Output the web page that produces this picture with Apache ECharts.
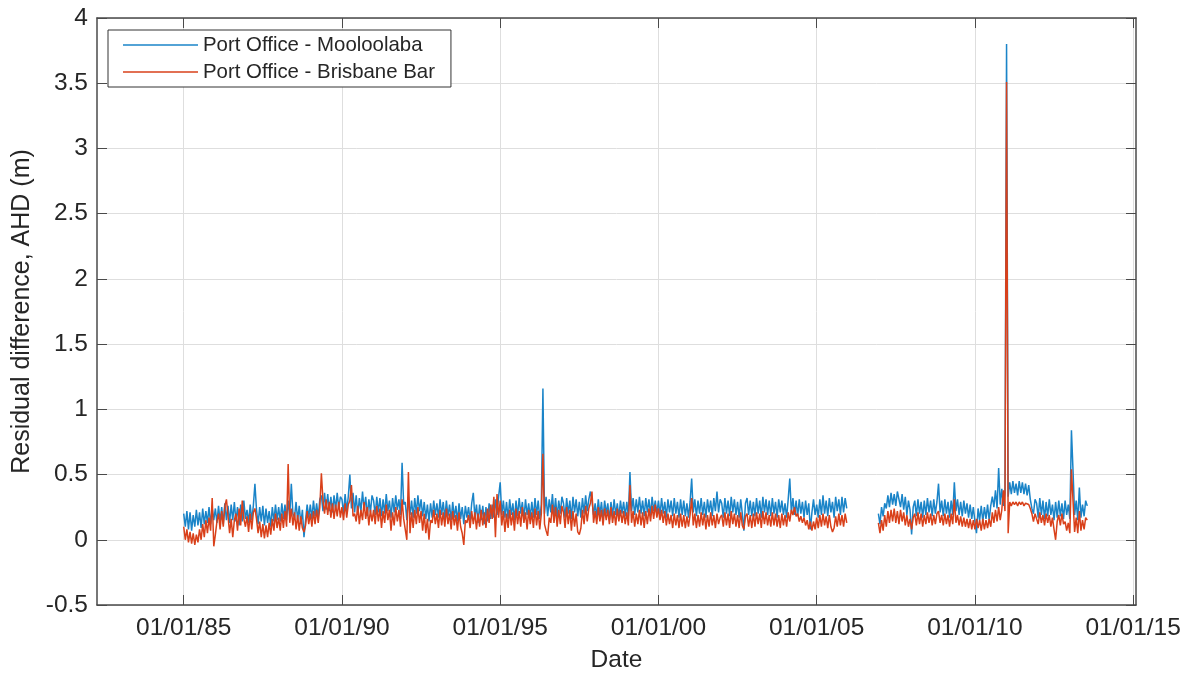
<!DOCTYPE html>
<html>
<head>
<meta charset="utf-8">
<script src="https://cdn.jsdelivr.net/npm/echarts@6/dist/echarts.min.js"></script>
<style>html,body{margin:0;padding:0;background:#fff;}#c{width:1204px;height:673px;}</style>
</head>
<body>
<div id="c"></div>
<script>
// ---- data ----
var seriesNames = ['Port Office - Mooloolaba', 'Port Office - Brisbane Bar'];
var xTickYears = [1985, 1990, 1995, 2000, 2005, 2010, 2015];
var yTicks = [-0.5, 0, 0.5, 1, 1.5, 2, 2.5, 3, 3.5, 4];
var sampleStep = 0.05;          // years between samples
var seg1Start = 1985.0;         // first record block
var seg2Start = 2006.95;        // second record block (after data gap)

var blueSeg1 = [
0.2,0.1,0.22,0.08,0.21,0.07,0.19,0.1,0.23,0.11,0.21,0.09,0.24,0.12,0.22,0.13,0.25,0.12,0.24,0.15,
0.24,0.13,0.26,0.14,0.25,0.12,0.28,0.15,0.26,0.13,0.27,0.15,0.29,0.14,0.25,0.11,0.27,0.14,0.3,0.16,
0.23,0.13,0.27,0.15,0.26,0.43,0.23,0.12,0.25,0.14,0.26,0.11,0.24,0.13,0.22,0.1,0.25,0.14,0.27,0.15,
0.25,0.14,0.28,0.16,0.27,0.15,0.3,0.18,0.43,0.2,0.17,0.29,0.15,0.26,0.12,0.23,0.02,0.15,0.27,0.17,
0.27,0.16,0.3,0.18,0.28,0.17,0.31,0.34,0.22,0.36,0.23,0.35,0.22,0.33,0.21,0.34,0.23,0.36,0.24,0.33,
0.31,0.2,0.35,0.22,0.33,0.5,0.24,0.36,0.21,0.34,0.19,0.32,0.22,0.37,0.23,0.33,0.18,0.31,0.21,0.34,
0.3,0.19,0.33,0.21,0.32,0.18,0.31,0.2,0.35,0.22,0.3,0.17,0.32,0.21,0.34,0.23,0.31,0.19,0.59,0.27,
0.29,0.15,0.33,0.19,0.3,0.17,0.32,0.2,0.34,0.22,0.31,0.18,0.29,0.16,0.27,0.14,0.28,0.17,0.3,0.19,
0.28,0.17,0.31,0.19,0.29,0.16,0.3,0.18,0.27,0.15,0.29,0.17,0.26,0.14,0.28,0.16,0.25,0.12,0.26,0.17,
0.25,0.14,0.28,0.36,0.17,0.27,0.13,0.27,0.15,0.26,0.12,0.25,0.14,0.28,0.16,0.27,0.17,0.31,0.19,0.33,
0.44,0.19,0.3,0.17,0.29,0.16,0.31,0.19,0.28,0.15,0.3,0.18,0.32,0.2,0.29,0.16,0.31,0.19,0.28,0.17,
0.29,0.17,0.32,0.19,0.3,0.16,0.27,1.16,0.2,0.33,0.18,0.31,0.21,0.35,0.19,0.32,0.17,0.3,0.2,0.33,
0.28,0.17,0.32,0.2,0.3,0.16,0.33,0.21,0.31,0.18,0.29,0.17,0.32,0.2,0.34,0.22,0.31,0.37,0.3,0.19,
0.28,0.17,0.31,0.19,0.29,0.16,0.3,0.2,0.28,0.15,0.29,0.18,0.31,0.19,0.28,0.17,0.3,0.2,0.29,0.18,
0.29,0.18,0.52,0.22,0.32,0.19,0.31,0.21,0.33,0.2,0.3,0.18,0.32,0.21,0.31,0.19,0.33,0.22,0.3,0.2,
0.3,0.19,0.32,0.2,0.29,0.17,0.31,0.21,0.3,0.18,0.32,0.2,0.29,0.17,0.31,0.19,0.3,0.18,0.28,0.17,
0.29,0.47,0.21,0.31,0.18,0.3,0.2,0.32,0.19,0.29,0.17,0.31,0.21,0.3,0.18,0.32,0.22,0.37,0.21,0.31,
0.28,0.17,0.32,0.2,0.3,0.18,0.33,0.21,0.31,0.19,0.29,0.17,0.31,0.2,0.07,0.28,0.32,0.19,0.3,0.18,
0.29,0.18,0.32,0.2,0.3,0.17,0.33,0.21,0.31,0.19,0.3,0.18,0.32,0.2,0.29,0.17,0.31,0.21,0.3,0.19,
0.28,0.17,0.31,0.47,0.21,0.32,0.19,0.3,0.18,0.31,0.2,0.29,0.17,0.3,0.19,0.28,0.08,0.21,0.31,0.19,
0.27,0.17,0.31,0.19,0.34,0.2,0.3,0.18,0.32,0.21,0.29,0.17,0.33,0.22,0.31,0.19,0.33,0.21,0.32,0.24
];
var redSeg1 = [
0.1,0.0,0.08,-0.02,0.06,-0.03,0.05,-0.04,0.04,-0.02,0.08,0.0,0.12,0.02,0.15,0.05,0.17,0.07,0.32,-0.05,
0.04,0.14,0.2,0.08,0.22,0.1,0.26,0.31,0.18,0.05,0.16,0.02,0.15,0.2,0.07,0.24,0.11,0.3,0.16,0.1,
0.18,0.06,0.2,0.08,0.21,0.24,0.16,0.05,0.14,0.02,0.12,0.01,0.11,0.02,0.13,0.04,0.16,0.07,0.2,0.09,
0.17,0.07,0.2,0.09,0.22,0.1,0.58,0.13,0.24,0.11,0.21,0.08,0.19,0.07,0.18,0.09,0.06,0.11,0.22,0.12,
0.2,0.1,0.22,0.12,0.23,0.13,0.25,0.51,0.3,0.2,0.31,0.19,0.29,0.17,0.28,0.16,0.27,0.18,0.29,0.17,
0.25,0.15,0.28,0.17,0.27,0.3,0.42,0.18,0.2,0.14,0.26,0.12,0.23,0.15,0.29,0.16,0.25,0.11,0.23,0.14,
0.23,0.12,0.26,0.14,0.24,0.09,0.22,0.13,0.27,0.15,0.23,0.07,0.21,0.11,0.25,0.14,0.23,0.1,0.31,0.16,
0.17,0.0,0.52,0.05,0.21,0.09,0.23,0.12,0.25,0.13,0.22,0.07,0.2,0.05,0.16,0.0,0.15,0.13,0.23,0.12,
0.2,0.09,0.23,0.11,0.21,0.1,0.24,0.12,0.2,0.08,0.22,0.11,0.19,0.07,0.21,0.1,0.05,-0.04,0.15,0.13,
0.19,0.09,0.22,0.12,0.21,0.08,0.2,0.1,0.23,0.11,0.21,0.09,0.24,0.13,0.27,0.16,0.33,0.02,0.35,0.17,
0.3,0.11,0.22,0.06,0.2,0.09,0.23,0.11,0.21,0.07,0.24,0.12,0.22,0.1,0.25,0.13,0.21,0.08,0.23,0.12,
0.21,0.09,0.24,0.11,0.22,0.08,0.2,0.66,0.12,0.07,0.03,0.17,0.13,0.27,0.13,0.25,0.1,0.23,0.12,0.26,
0.21,0.09,0.25,0.12,0.23,0.07,0.22,0.1,0.2,0.06,0.04,0.09,0.23,0.12,0.26,0.14,0.24,0.28,0.37,0.13,
0.22,0.12,0.25,0.14,0.23,0.11,0.24,0.15,0.23,0.12,0.25,0.13,0.22,0.11,0.24,0.14,0.23,0.13,0.22,0.12,
0.21,0.11,0.42,0.13,0.22,0.1,0.2,0.12,0.23,0.11,0.21,0.09,0.22,0.12,0.24,0.14,0.26,0.16,0.27,0.17,
0.24,0.15,0.23,0.13,0.22,0.11,0.2,0.12,0.19,0.09,0.2,0.11,0.19,0.09,0.2,0.1,0.19,0.09,0.18,0.1,
0.19,0.32,0.11,0.2,0.09,0.19,0.1,0.21,0.11,0.2,0.08,0.19,0.1,0.21,0.11,0.19,0.09,0.2,0.12,0.17,
0.19,0.1,0.21,0.11,0.2,0.09,0.22,0.12,0.2,0.1,0.19,0.09,0.21,0.11,0.08,0.18,0.2,0.1,0.19,0.09,
0.2,0.1,0.21,0.12,0.2,0.09,0.22,0.12,0.21,0.11,0.19,0.1,0.21,0.11,0.2,0.1,0.19,0.09,0.2,0.11,
0.19,0.1,0.21,0.14,0.23,0.19,0.25,0.18,0.2,0.14,0.18,0.13,0.17,0.11,0.15,0.08,0.14,0.07,0.14,0.08,
0.17,0.09,0.19,0.1,0.2,0.11,0.18,0.09,0.19,0.1,0.06,0.09,0.18,0.1,0.2,0.11,0.19,0.1,0.2,0.13
];
var blueSeg2 = [
0.2,0.12,0.25,0.18,0.28,0.24,0.34,0.25,0.36,0.27,0.35,0.26,0.37,0.38,0.25,0.35,0.23,0.33,0.19,0.3,
0.23,0.04,0.25,0.3,0.18,0.31,0.2,0.29,0.17,0.3,0.19,0.32,0.21,0.3,0.18,0.31,0.2,0.29,0.43,0.21,
0.3,0.18,0.31,0.2,0.29,0.17,0.3,0.19,0.44,0.22,0.31,0.19,0.29,0.18,0.3,0.2,0.28,0.17,0.27,0.16,
0.25,0.14,0.05,0.24,0.15,0.26,0.14,0.25,0.16,0.27,0.15,0.26,0.33,0.25,0.38,0.24,0.55,0.27,0.39,0.26,
0.36,3.8,0.33,0.44,0.35,0.45,0.36,0.43,0.34,0.45,0.36,0.44,0.35,0.43,0.34,0.42,0.31,0.24,0.2,0.31,
0.28,0.17,0.32,0.19,0.3,0.16,0.29,0.18,0.31,0.19,0.27,0.15,0.29,0.17,0.3,0.18,0.28,0.16,0.3,0.19,
0.27,0.16,0.84,0.53,0.19,0.3,0.15,0.4,0.17,0.27,0.18,0.3,0.26
];
var redSeg2 = [
0.13,0.05,0.15,0.07,0.19,0.1,0.22,0.13,0.23,0.14,0.24,0.13,0.22,0.12,0.23,0.14,0.21,0.11,0.19,0.1,
0.16,0.08,0.17,0.2,0.11,0.21,0.12,0.2,0.1,0.19,0.12,0.21,0.13,0.2,0.11,0.19,0.12,0.2,0.22,0.13,
0.19,0.11,0.2,0.12,0.19,0.1,0.2,0.12,0.31,0.13,0.19,0.11,0.18,0.1,0.17,0.1,0.16,0.09,0.16,0.08,
0.15,0.08,0.16,0.09,0.15,0.07,0.16,0.08,0.15,0.09,0.16,0.1,0.21,0.13,0.23,0.14,0.25,0.15,0.23,0.38,
0.22,3.51,0.05,0.29,0.26,0.29,0.27,0.29,0.26,0.29,0.27,0.29,0.26,0.28,0.27,0.27,0.24,0.2,0.14,0.2,
0.2,0.12,0.21,0.13,0.19,0.11,0.2,0.13,0.19,0.1,0.17,0.08,0.0,0.14,0.19,0.11,0.2,0.12,0.14,0.07,
0.13,0.05,0.54,0.3,0.06,0.17,0.05,0.22,0.07,0.15,0.08,0.17,0.15
];

// ---- build [x, y] pairs (x in decimal years), with a break between blocks ----
function buildSeries(seg1, seg2) {
  var out = [];
  for (var i = 0; i < seg1.length; i++) out.push([+(seg1Start + i * sampleStep).toFixed(3), seg1[i]]);
  out.push([(seg1Start + seg1.length * sampleStep + seg2Start) / 2, null]);
  for (var j = 0; j < seg2.length; j++) out.push([+(seg2Start + j * sampleStep).toFixed(3), seg2[j]]);
  return out;
}

var FONT = "'Liberation Sans', Arial, Helvetica, sans-serif";
var TXT = '#262626';
var AX = '#4a4a4a';
var X_MIN = 1982.26, X_MAX = 2015.09;

function yearLabel(v) {
  var yy = Math.round(v) % 100;
  return '01/01/' + (yy < 10 ? '0' + yy : '' + yy);
}

var chart = echarts.init(document.getElementById('c'), null, { renderer: 'canvas' });
chart.setOption({
  backgroundColor: '#ffffff',
  animation: false,
  grid: { left: 97, right: 68, top: 18, bottom: 68, containLabel: false, outerBoundsMode: 'none' },
  legend: {
    orient: 'vertical',
    left: 108, top: 30,
    padding: [5, 16, 5, 15],
    itemGap: 7,
    itemWidth: 75,
    itemHeight: 20,
    itemTextGap: 8,
    icon: 'path://M0,0L100,0L100,2L0,2Z',
    borderColor: '#333333',
    borderWidth: 1,
    backgroundColor: '#ffffff',
    textStyle: { fontFamily: FONT, fontSize: 20.4, color: TXT },
    data: seriesNames
  },
  xAxis: [{
    type: 'value', position: 'bottom', min: X_MIN, max: X_MAX,
    name: 'Date', nameLocation: 'middle', nameGap: 43,
    nameTextStyle: { fontFamily: FONT, fontSize: 24.5, color: TXT },
    axisLine: { show: true, onZero: false, lineStyle: { color: AX, width: 1.5 } },
    axisTick: { show: true, inside: true, length: 10, customValues: xTickYears, lineStyle: { color: AX, width: 1 } },
    axisLabel: { customValues: xTickYears, formatter: yearLabel, margin: 11, fontFamily: FONT, fontSize: 24.5, color: TXT },
    splitLine: { show: true, lineStyle: { color: '#dedede', width: 1 } }
  }, {
    type: 'value', position: 'top', min: X_MIN, max: X_MAX,
    axisLine: { show: true, onZero: false, lineStyle: { color: AX, width: 1.5 } },
    axisTick: { show: true, inside: true, length: 10, customValues: xTickYears, lineStyle: { color: AX, width: 1 } },
    axisLabel: { show: false, customValues: xTickYears },
    splitLine: { show: false }
  }],
  yAxis: [{
    type: 'value', position: 'left', min: -0.5, max: 4, interval: 0.5,
    name: 'Residual difference, AHD (m)', nameLocation: 'middle', nameGap: 62,
    nameTextStyle: { fontFamily: FONT, fontSize: 25, color: TXT },
    axisLine: { show: true, onZero: false, lineStyle: { color: AX, width: 1.5 } },
    axisTick: { show: true, inside: true, length: 10, lineStyle: { color: AX, width: 1 } },
    axisLabel: { margin: 9, fontFamily: FONT, fontSize: 24.5, color: TXT },
    splitLine: { show: true, lineStyle: { color: '#dedede', width: 1 } }
  }, {
    type: 'value', position: 'right', min: -0.5, max: 4, interval: 0.5,
    axisLine: { show: true, onZero: false, lineStyle: { color: AX, width: 1.5 } },
    axisTick: { show: true, inside: true, length: 10, lineStyle: { color: AX, width: 1 } },
    axisLabel: { show: false },
    splitLine: { show: false }
  }],
  series: [{
    name: seriesNames[0], type: 'line', xAxisIndex: 0, yAxisIndex: 0,
    data: buildSeries(blueSeg1, blueSeg2),
    showSymbol: false, symbol: 'none', connectNulls: false,
    lineStyle: { color: '#1a84c8', width: 1.5 },
    itemStyle: { color: '#1a84c8' },
    z: 2
  }, {
    name: seriesNames[1], type: 'line', xAxisIndex: 0, yAxisIndex: 0,
    data: buildSeries(redSeg1, redSeg2),
    showSymbol: false, symbol: 'none', connectNulls: false,
    lineStyle: { color: '#d9401a', width: 1.5 },
    itemStyle: { color: '#d9401a' },
    z: 3
  }]
});
</script>
</body>
</html>
